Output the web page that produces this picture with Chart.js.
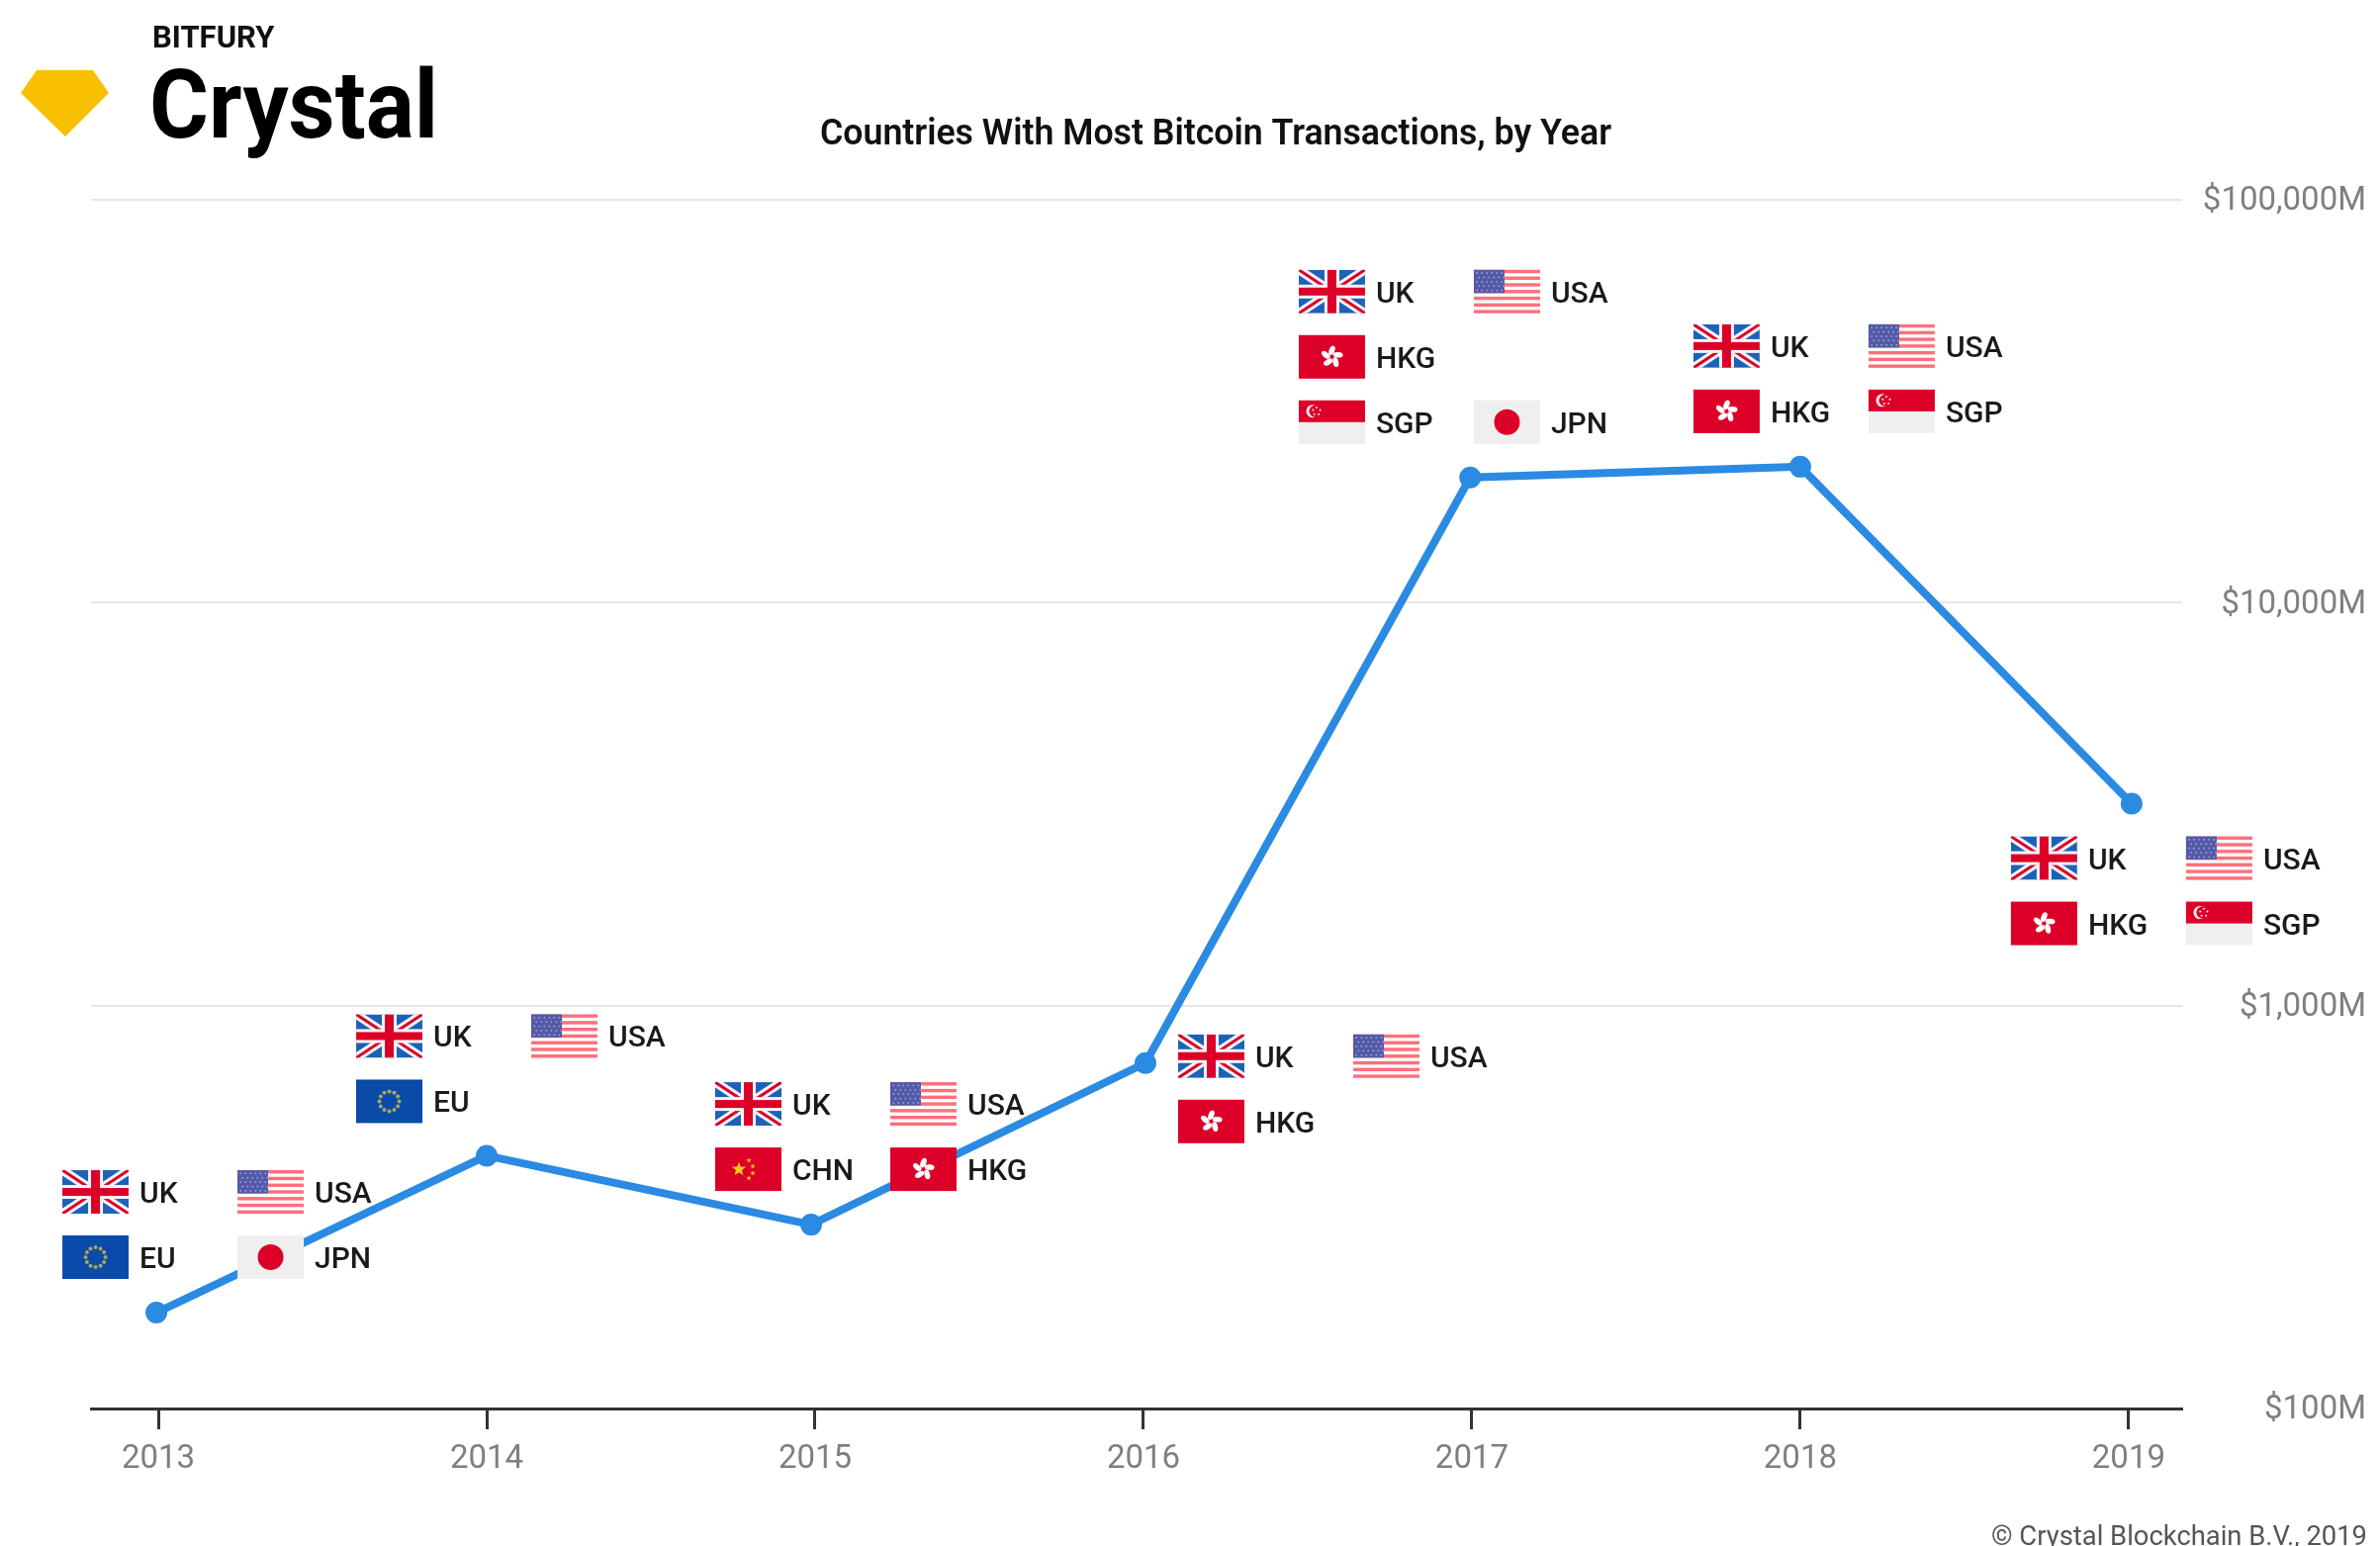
<!DOCTYPE html>
<html>
<head>
<meta charset="utf-8">
<title>Countries With Most Bitcoin Transactions, by Year</title>
<script src="https://cdn.jsdelivr.net/npm/chart.js@4/dist/chart.umd.min.js"></script>
<style>
  html, body { margin: 0; padding: 0; background: #fff; }
  canvas { display: block; }
</style>
</head>
<body>
<canvas id="chart" width="2406" height="1563"></canvas>
<script>
// values, $M on a log scale
const years = [2013, 2014, 2015, 2016, 2017, 2018, 2019];
// the points don't sit exactly on the year ticks in the original
const pointDates = [2012.994, 2014, 2014.988, 2016.006, 2016.995, 2018, 2019.009];
const volumes = [173, 424, 286, 720, 20450, 21750, 3170];
const yTicks = [100, 1000, 10000, 100000];

// countries listed next to each year, two per row (null = empty cell)
const countries2013 = ['UK', 'USA', 'EU', 'JPN'];
const countries2014 = ['UK', 'USA', 'EU'];
const countries2015 = ['UK', 'USA', 'CHN', 'HKG'];
const countries2016 = ['UK', 'USA', 'HKG'];
const countries2017 = ['UK', 'USA', 'HKG', null, 'SGP', 'JPN'];
const countries2018 = ['UK', 'USA', 'HKG', 'SGP'];
const countries2019 = ['UK', 'USA', 'HKG', 'SGP'];
const countryLists = [countries2013, countries2014, countries2015, countries2016, countries2017, countries2018, countries2019];

// where each flag block sits relative to its year and value, in px
const blockOffsets = [[-97, -144], [-132, -143], [-101, -144], [35, -29], [-175, -210], [-108, -144], [-119, 33]];

const FLAG_W = 67, FLAG_H = 44, COL_STEP = 177, ROW_STEP = 66, LABEL_GAP = 11;
const RED = '#dc0028';

function drawUK(c, x, y) {
  c.save();
  c.beginPath(); c.rect(x, y, FLAG_W, FLAG_H); c.clip();
  c.fillStyle = '#1c62b8'; c.fillRect(x, y, FLAG_W, FLAG_H);
  c.lineCap = 'butt';
  c.strokeStyle = '#f4f4f6'; c.lineWidth = 9;
  c.beginPath();
  c.moveTo(x, y); c.lineTo(x + FLAG_W, y + FLAG_H);
  c.moveTo(x + FLAG_W, y); c.lineTo(x, y + FLAG_H);
  c.stroke();
  c.strokeStyle = RED; c.lineWidth = 3;
  c.beginPath();
  c.moveTo(x, y); c.lineTo(x + FLAG_W, y + FLAG_H);
  c.moveTo(x + FLAG_W, y); c.lineTo(x, y + FLAG_H);
  c.stroke();
  c.fillStyle = '#f4f4f6';
  c.fillRect(x + 26, y, 15, FLAG_H);
  c.fillRect(x, y + 15, FLAG_W, 14);
  c.fillStyle = RED;
  c.fillRect(x + 29, y, 9, FLAG_H);
  c.fillRect(x, y + 18, FLAG_W, 8);
  c.restore();
}

function drawUSA(c, x, y) {
  c.fillStyle = '#fdfdfd'; c.fillRect(x, y, FLAG_W, FLAG_H);
  c.fillStyle = '#ff6f7b';
  const h = FLAG_H / 13;
  for (let i = 0; i < 13; i += 2) c.fillRect(x, y + i * h, FLAG_W, h);
  c.fillStyle = '#535aa8'; c.fillRect(x, y, 31, 23.5);
  c.fillStyle = '#a0a4d4';
  for (let r = 0; r < 5; r++) {
    for (let k = 0; k < 6; k++) {
      c.fillRect(x + 2.5 + k * 5 + (r % 2) * 2, y + 2.5 + r * 4.4, 1.6, 1.6);
    }
  }
}

function drawEU(c, x, y) {
  c.fillStyle = '#0a4aa8'; c.fillRect(x, y, FLAG_W, FLAG_H);
  c.fillStyle = '#a9a664';
  for (let i = 0; i < 12; i++) {
    const a = i * Math.PI / 6;
    c.beginPath();
    c.arc(x + FLAG_W / 2 + 10 * Math.cos(a), y + FLAG_H / 2 + 10 * Math.sin(a), 2, 0, Math.PI * 2);
    c.fill();
  }
}

function drawJPN(c, x, y) {
  c.fillStyle = '#efefef'; c.fillRect(x, y, FLAG_W, FLAG_H);
  c.fillStyle = RED;
  c.beginPath(); c.arc(x + FLAG_W / 2, y + FLAG_H / 2, 13, 0, Math.PI * 2); c.fill();
}

function drawHKG(c, x, y) {
  c.fillStyle = RED; c.fillRect(x, y, FLAG_W, FLAG_H);
  const cx = x + FLAG_W / 2, cy = y + FLAG_H / 2;
  for (let i = 0; i < 5; i++) {
    const a = -Math.PI / 2 + i * 2 * Math.PI / 5;
    c.fillStyle = '#fff';
    c.beginPath();
    c.ellipse(cx + 6.5 * Math.cos(a), cy + 6.5 * Math.sin(a), 5, 2.8, a + 0.4, 0, Math.PI * 2);
    c.fill();
  }
  c.fillStyle = RED;
  c.beginPath(); c.arc(cx, cy, 1.4, 0, Math.PI * 2); c.fill();
}

function drawSGP(c, x, y) {
  c.fillStyle = '#efefef'; c.fillRect(x, y, FLAG_W, FLAG_H);
  c.fillStyle = RED; c.fillRect(x, y, FLAG_W, FLAG_H / 2);
  c.fillStyle = '#f7f0f0';
  c.beginPath(); c.arc(x + 14, y + 11, 6.5, 0, Math.PI * 2); c.fill();
  c.fillStyle = RED;
  c.beginPath(); c.arc(x + 16.5, y + 11, 6, 0, Math.PI * 2); c.fill();
  c.fillStyle = '#f7f0f0';
  for (let i = 0; i < 5; i++) {
    const a = -Math.PI / 2 + i * 2 * Math.PI / 5;
    c.beginPath(); c.arc(x + 18 + 3.8 * Math.cos(a), y + 11 + 3.8 * Math.sin(a), 1, 0, Math.PI * 2); c.fill();
  }
}

function star(c, cx, cy, r) {
  c.beginPath();
  for (let i = 0; i < 10; i++) {
    const a = -Math.PI / 2 + i * Math.PI / 5;
    const rr = i % 2 ? r * 0.42 : r;
    c.lineTo(cx + rr * Math.cos(a), cy + rr * Math.sin(a));
  }
  c.closePath();
  c.fill();
}

function drawCHN(c, x, y) {
  c.fillStyle = RED; c.fillRect(x, y, FLAG_W, FLAG_H);
  c.fillStyle = '#ffc61e';
  star(c, x + 24, y + 22, 7.5);
  star(c, x + 34, y + 13, 2.8);
  star(c, x + 38, y + 19, 2.8);
  star(c, x + 38, y + 26, 2.8);
  star(c, x + 34, y + 31, 2.8);
}

const flagDrawers = { UK: drawUK, USA: drawUSA, EU: drawEU, JPN: drawJPN, HKG: drawHKG, SGP: drawSGP, CHN: drawCHN };

// logo, title, footer and the flag blocks
const extras = {
  id: 'extras',
  afterDatasetsDraw(chart) {
    const c = chart.ctx;
    const xs = chart.scales.x, ys = chart.scales.y;
    c.save();
    c.textBaseline = 'alphabetic';
    c.textAlign = 'left';

    countryLists.forEach((list, i) => {
      const bx = xs.getPixelForValue(years[i]) + blockOffsets[i][0];
      const by = ys.getPixelForValue(volumes[i]) + blockOffsets[i][1];
      list.forEach((name, k) => {
        if (!name) return;
        const x = bx + (k % 2) * COL_STEP;
        const y = by + Math.floor(k / 2) * ROW_STEP;
        flagDrawers[name](c, x, y);
        c.fillStyle = '#1a1a1a';
        c.font = '500 30px Roboto';
        c.fillText(name, x + FLAG_W + LABEL_GAP, y + FLAG_H / 2 + 11);
      });
    });

    // diamond
    c.fillStyle = '#f8c000';
    c.beginPath();
    c.moveTo(37, 71); c.lineTo(94, 71); c.lineTo(110, 94); c.lineTo(66, 138); c.lineTo(21, 94);
    c.closePath();
    c.fill();

    c.fillStyle = '#111';
    c.font = '700 31px Roboto';
    c.fillText('BITFURY', 154, 48, 131);
    c.fillStyle = '#000';
    c.font = '700 96px Roboto';
    c.fillText('Crystal', 151, 139, 292);

    c.fillStyle = '#111';
    c.font = '600 36px Roboto';
    c.textAlign = 'center';
    c.fillText('Countries With Most Bitcoin Transactions, by Year', 1229, 146, 800);

    c.fillStyle = '#555';
    c.font = '400 28px Roboto';
    c.textAlign = 'right';
    c.fillText('© Crystal Blockchain B.V., 2019', 2393, 1562, 380);
    c.restore();
  }
};

new Chart(document.getElementById('chart'), {
  type: 'line',
  data: {
    datasets: [{
      data: pointDates.map((d, i) => ({ x: d, y: volumes[i] })),
      borderColor: '#2b8ae2',
      backgroundColor: '#2b8ae2',
      borderWidth: 8,
      pointRadius: 11,
      pointBorderWidth: 0,
      tension: 0
    }]
  },
  options: {
    responsive: false,
    animation: false,
    layout: { padding: { left: 92, right: 14, top: 202, bottom: 0 } },
    plugins: { legend: { display: false }, title: { display: false }, tooltip: { enabled: false } },
    scales: {
      x: {
        type: 'linear',
        min: 2012.795,
        max: 2019.163,
        afterBuildTicks: axis => { axis.ticks = years.map(v => ({ value: v })); },
        afterFit: axis => { axis.height = 139; },
        grid: { drawOnChartArea: false, drawTicks: true, tickLength: 21, tickWidth: 3, tickColor: '#333' },
        border: { color: '#333', width: 3 },
        ticks: {
          callback: v => String(v),
          color: '#7f7f7f',
          font: { family: 'Roboto', size: 33 },
          padding: 11,
          maxRotation: 0,
          autoSkip: false
        }
      },
      y: {
        type: 'logarithmic',
        position: 'right',
        min: 100,
        max: 100000,
        afterBuildTicks: axis => { axis.ticks = yTicks.map(v => ({ value: v, major: true })); },
        afterFit: axis => { axis.width = 186; },
        grid: { color: '#e6e6e6', lineWidth: 2, drawTicks: false },
        border: { display: false },
        ticks: {
          callback: v => '$' + v.toLocaleString('en-US') + 'M',
          color: '#7f7f7f',
          font: { family: 'Roboto', size: 33 },
          padding: 20,
          crossAlign: 'far',
          labelOffset: 2,
          autoSkip: false
        }
      }
    }
  },
  plugins: [extras]
});
</script>
</body>
</html>
